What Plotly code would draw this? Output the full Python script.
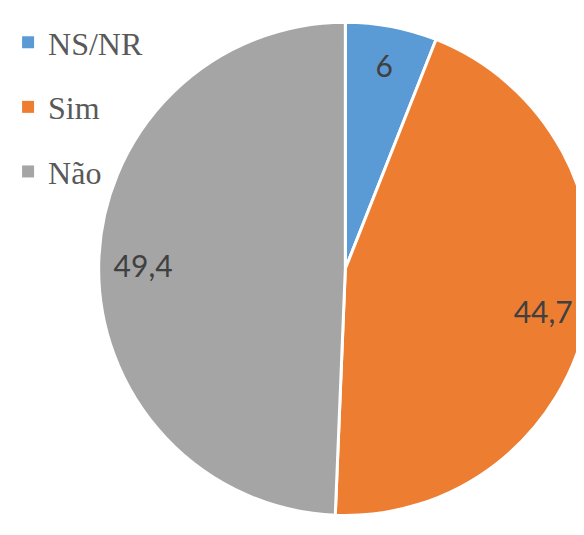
import plotly.graph_objects as go

labels = ["NS/NR", "Sim", "Não"]
values = [6, 44.7, 49.4]
colors = ["#5B9BD5", "#ED7D31", "#A5A5A5"]

# labels on slices use a decimal comma
slice_text = [f"{v:g}".replace(".", ",") for v in values]

pie_domain = dict(x=[0.145, 1.0], y=[0.04, 0.985])

fig = go.Figure()

# the coloured pie itself
fig.add_trace(
    go.Pie(
        labels=labels,
        values=values,
        textinfo="none",
        sort=False,
        direction="clockwise",
        rotation=0,
        marker=dict(colors=colors, line=dict(color="white", width=3)),
        domain=pie_domain,
        showlegend=False,
        hoverinfo="label+value",
    )
)

# transparent ring on top, only to place the value labels near the rim
fig.add_trace(
    go.Pie(
        labels=labels,
        values=values,
        text=slice_text,
        textinfo="text",
        textposition="inside",
        insidetextorientation="horizontal",
        hole=0.64,
        sort=False,
        direction="clockwise",
        rotation=0,
        marker=dict(colors=["rgba(0,0,0,0)"] * len(values), line=dict(width=0)),
        textfont=dict(family="Lato", size=30, color="#404040"),
        domain=pie_domain,
        showlegend=False,
        hoverinfo="skip",
    )
)

# legend entries (squares), one group each so the gap between them can be set
for lab, col in zip(labels, colors):
    fig.add_trace(
        go.Scatter(
            x=[None],
            y=[None],
            mode="markers",
            name=lab,
            legendgroup=lab,
            marker=dict(symbol="square", size=12, color=col),
        )
    )

fig.update_layout(
    width=584,
    height=535,
    paper_bgcolor="white",
    plot_bgcolor="white",
    margin=dict(l=0, r=0, t=0, b=0),
    xaxis=dict(visible=False),
    yaxis=dict(visible=False),
    legend=dict(
        x=-0.012,
        y=0.987,
        xanchor="left",
        yanchor="top",
        traceorder="grouped",
        tracegroupgap=20,
        font=dict(family="Liberation Serif", size=32, color="#595959"),
        bgcolor="rgba(0,0,0,0)",
    ),
)

fig.write_html("out.html")
